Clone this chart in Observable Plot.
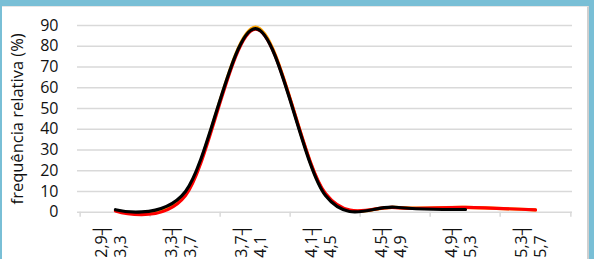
<!DOCTYPE html>
<html><head><meta charset="utf-8">
<script src="https://cdn.jsdelivr.net/npm/d3@7"></script>
<script src="https://cdn.jsdelivr.net/npm/@observablehq/plot@0.6"></script>
<style>
html,body{margin:0;padding:0;width:594px;height:259px;overflow:hidden;background:#79bfd6;}
#panel{position:absolute;left:2px;top:6px;width:587px;height:253px;background:#fff;border-right:2px solid #cfcfcf;border-top:1px solid #e6e6e6;box-sizing:border-box;}
#chart{position:absolute;left:0;top:0;}
</style></head><body><div id="panel"></div><div id="chart"></div>
<script>
const lowerBounds = ["2,9","3,3","3,7","4,1","4,5","4,9","5,3"];
const upperBounds = ["3,3","3,7","4,1","4,5","4,9","5,3","5,7"];
const categories = lowerBounds.map((l, i) => `${l}┤${upperBounds[i]}`);
const seriesOrange = [0.8, 9, 89.2, 8.5, 2.3, 2.3, 1.1];
const seriesRed    = [0.6, 8, 88.2, 9, 2.2, 2.3, 1.1];
const seriesBlack  = [1.2, 10, 88.5, 8, 2.4, 1.3];
const yTicks = [0,10,20,30,40,50,60,70,80,90];
const yLabel = "frequência relativa (%)";

const toRows = (vals) => vals.map((v, i) => ({cat: categories[i], value: v}));
const labelRows = categories.map((c, i) => ({cat: c, lo: lowerBounds[i] + "┤", hi: upperBounds[i]}));

const left = 77, right = 572;
const step = (right - left) / categories.length;
const font = "'Open Sans', sans-serif";

const chart = Plot.plot({
  width: 594,
  height: 259,
  marginLeft: left,
  marginRight: 594 - right,
  marginTop: 25,
  marginBottom: 47.3,
  style: {background: "transparent", fontFamily: font, overflow: "visible"},
  x: {type: "point", domain: categories, padding: 0.5, axis: null},
  y: {domain: [0, 90], axis: null},
  marks: [
    Plot.ruleY(yTicks.filter(d => d > 0), {stroke: "#d9d9d9", strokeWidth: 1.5}),
    Plot.ruleY([0], {stroke: "#d9d9d9", strokeWidth: 1.5}),
    Plot.ruleX(categories, {x: d => d, y1: 0, y2: -2.4, dx: -step / 2, stroke: "#d9d9d9", strokeWidth: 1.5}),
    Plot.ruleX(categories.slice(-1), {x: d => d, y1: 0, y2: -2.4, dx: step / 2, stroke: "#d9d9d9", strokeWidth: 1.5}),
    Plot.axisY({ticks: yTicks, tickSize: 0, tickPadding: 19, fontSize: 16, fill: "#111", tickFormat: d => String(d), label: null}),
    Plot.text([yLabel], {frameAnchor: "left", dx: -60, rotate: -90, textAnchor: "middle", fontSize: 16.5, fill: "#111", text: d => d}),
    Plot.text(labelRows, {x: "cat", text: "lo", frameAnchor: "bottom", dy: 45.5, dx: -9, rotate: -90, textAnchor: "start", fontSize: 16, fill: "#111"}),
    Plot.text(labelRows, {x: "cat", text: "hi", frameAnchor: "bottom", dy: 45.5, dx: 10, rotate: -90, textAnchor: "start", fontSize: 16, fill: "#111"}),
    Plot.line(toRows(seriesOrange), {x: "cat", y: "value", stroke: "#ffa500", strokeWidth: 3.2, curve: "cardinal", tension: 0}),
    Plot.line(toRows(seriesRed), {x: "cat", y: "value", stroke: "#ff0000", strokeWidth: 3.2, curve: "cardinal", tension: 0}),
    Plot.line(toRows(seriesBlack), {x: "cat", y: "value", stroke: "#000000", strokeWidth: 3.2, curve: "cardinal", tension: 0})
  ]
});
document.getElementById("chart").appendChild(chart);
</script>
</body></html>
